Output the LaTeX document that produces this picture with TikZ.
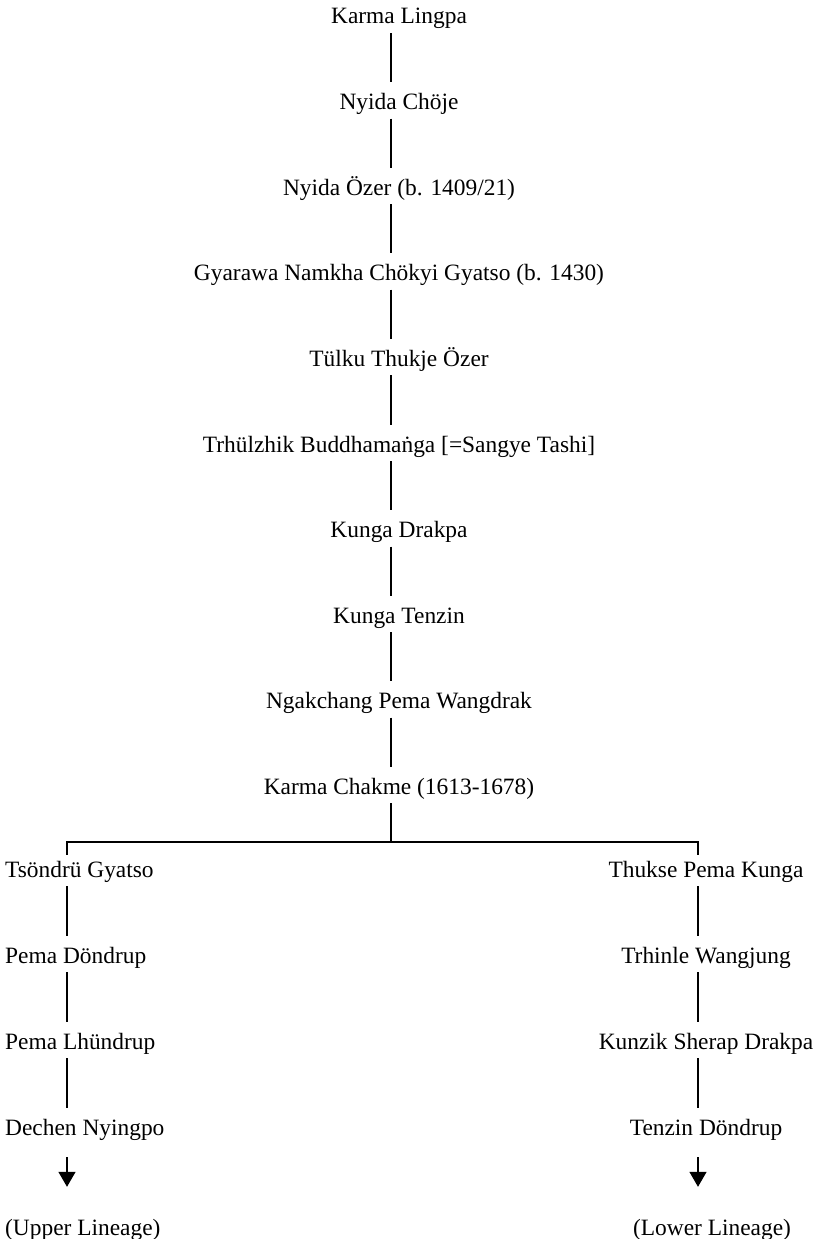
\documentclass[tikz,border=0pt]{standalone}
\usepackage{fontspec}
\setmainfont{Liberation Serif}
\usetikzlibrary{arrows.meta}
\tikzset{
  person/.style={inner sep=0pt, text height=27pt, text depth=9pt, anchor=base,
    font=\fontsize{23.4}{28}\selectfont},
  lperson/.style={person, anchor=base west},
  link/.style={line width=1.3pt},
  cont/.style={line width=1.3pt, -{Triangle[length=15pt,width=17pt]}, shorten <=13pt, shorten >=21pt}
}
\begin{document}
\begin{tikzpicture}[x=1pt,y=1pt]
\useasboundingbox (0,0) rectangle (831,-1239);
\coordinate (axis) at (391,0);
\coordinate (lax) at (67,0);
\coordinate (rax) at (698,0);
\coordinate (split) at (391,-842);
\coordinate (lb) at (67,-842);
\coordinate (rb) at (698,-842);
% main line
\node[person] (m1) at (399,-24) {Karma Lingpa};
\node[person] (m2) at (399,-109.5) {Nyida Chöje};
\node[person] (m3) at (399,-195) {Nyida Özer (b. 1409/21)};
\node[person] (m4) at (399,-280.5) {Gyarawa Namkha Chökyi Gyatso (b. 1430)};
\node[person] (m5) at (399,-366) {Tülku Thukje Özer};
\node[person] (m6) at (399,-452) {Trhülzhik Buddhamaṅga [=Sangye Tashi]};
\node[person] (m7) at (399,-537.5) {Kunga Drakpa};
\node[person] (m8) at (399,-623) {Kunga Tenzin};
\node[person] (m9) at (399,-708.5) {Ngakchang Pema Wangdrak};
\node[person] (m10) at (399,-794) {Karma Chakme (1613-1678)};
\foreach \a/\b in {m1/m2,m2/m3,m3/m4,m4/m5,m5/m6,m6/m7,m7/m8,m8/m9,m9/m10}
  \draw[link] (\a.south -| axis) -- (\b.north -| axis);
% left branch
\node[lperson] (l1) at (5,-877) {Tsöndrü Gyatso};
\node[lperson] (l2) at (5,-963) {Pema Döndrup};
\node[lperson] (l3) at (5,-1049) {Pema Lhündrup};
\node[lperson] (l4) at (5,-1135) {Dechen Nyingpo};
\node[lperson] (l5) at (5,-1235) {(Upper Lineage)};
% right branch
\node[person] (r1) at (706,-877) {Thukse Pema Kunga};
\node[person] (r2) at (706,-963) {Trhinle Wangjung};
\node[person] (r3) at (706,-1049) {Kunzik Sherap Drakpa};
\node[person] (r4) at (706,-1135) {Tenzin Döndrup};
\node[person] (r5) at (712,-1235) {(Lower Lineage)};
\foreach \a/\b in {l1/l2,l2/l3,l3/l4}
  \draw[link] (\a.south -| lax) -- (\b.north -| lax);
\foreach \a/\b in {r1/r2,r2/r3,r3/r4}
  \draw[link] (\a.south -| rax) -- (\b.north -| rax);
% split
\draw[link] (m10.south -| axis) -- (split);
\draw[link] ([yshift=-5pt]l1.north -| lb) -- (lb) -- (rb) -- ([yshift=-5pt]r1.north -| rb);
% continuation arrows
\draw[cont] (l4.south -| lax) -- (l5.north -| lax);
\draw[cont] (r4.south -| rax) -- (r5.north -| rax);
\end{tikzpicture}
\end{document}
